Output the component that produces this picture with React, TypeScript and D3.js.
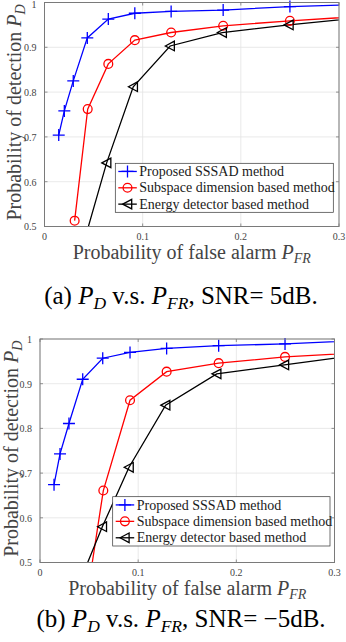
import React from 'react';
import * as d3 from 'd3';

// x = probability of false alarm, y = probability of detection
// (a) SNR = 5dB
const A_SSSAD_X = [0.0145, 0.0202, 0.0293, 0.0436, 0.065, 0.092, 0.129, 0.182, 0.25, 0.35];
const A_SSSAD_Y = [0.704, 0.758, 0.825, 0.921, 0.963, 0.976, 0.98, 0.983, 0.991, 0.997];
const A_SUBSPACE_X = [0.0307, 0.044, 0.065, 0.092, 0.129, 0.182, 0.25, 0.35];
const A_SUBSPACE_Y = [0.513, 0.762, 0.863, 0.916, 0.933, 0.948, 0.959, 0.973];
const A_ENERGY_X = [0.029, 0.0633, 0.0904, 0.128, 0.181, 0.249, 0.35];
const A_ENERGY_Y = [0.38, 0.642, 0.812, 0.903, 0.933, 0.95, 0.972];

// (b) SNR = -5dB
const B_SSSAD_X = [0.0143, 0.0204, 0.0295, 0.0435, 0.0639, 0.0917, 0.129, 0.182, 0.2496, 0.35];
const B_SSSAD_Y = [0.674, 0.743, 0.811, 0.91, 0.957, 0.97, 0.979, 0.985, 0.989, 0.999];
const B_SUBSPACE_X = [0.0435, 0.0645, 0.0917, 0.129, 0.182, 0.2496, 0.35];
const B_SUBSPACE_Y = [0.36, 0.661, 0.863, 0.927, 0.946, 0.96, 0.972];
const B_ENERGY_X = [0.0435, 0.0635, 0.0907, 0.128, 0.18, 0.249, 0.35];
const B_ENERGY_Y = [0.473, 0.58, 0.713, 0.852, 0.922, 0.942, 0.972];

const X_TICKS = [0, 0.1, 0.2, 0.3];
const Y_TICKS = [0.5, 0.6, 0.7, 0.8, 0.9, 1];
const LEGEND = ['Proposed SSSAD method', 'Subspace dimension based method', 'Energy detector based method'];
const COLORS = ['#0000ff', '#ff0000', '#000000'];
const MARKERS = ['plus', 'circle', 'triangle'];

const FONT = '"Liberation Serif", "Times New Roman", serif';
const AXIS = '#7a7a7a';
const LABEL = '#444';

type Series = { x: number[]; y: number[] };

const zip = (s: Series) => s.x.map((x, i) => [x, s.y[i]] as [number, number]);

const Marker = ({ kind, cx, cy, color }: { kind: string; cx: number; cy: number; color: string }) => {
  if (kind === 'plus') {
    return <path d={`M${cx - 6},${cy}H${cx + 6}M${cx},${cy - 6}V${cy + 6}`} stroke={color} strokeWidth={1.3} fill="none" />;
  }
  if (kind === 'circle') {
    return <circle cx={cx} cy={cy} r={4.4} stroke={color} strokeWidth={1.3} fill="none" />;
  }
  return (
    <path d={`M${cx - 4.8},${cy}L${cx + 4.2},${cy - 4.8}L${cx + 4.2},${cy + 4.8}Z`} stroke={color} strokeWidth={1.3} fill="none" />
  );
};

const Sub = ({ main, sub }: { main: string; sub: string }) => (
  <>
    <tspan fontStyle="italic">{main}</tspan>
    <tspan fontStyle="italic" fontSize="0.7em" dy="0.3em">{sub}</tspan>
  </>
);

type PanelProps = {
  id: string;
  series: Series[];
  left: number; right: number; top: number; bottom: number;
  legend: { x0: number; x1: number; y0: number; y1: number };
  yLabelX: number;
  xLabelY: number;
  caption: React.ReactNode;
  captionY: number;
};

const Panel = ({ id, series, left, right, top, bottom, legend, yLabelX, xLabelY, caption, captionY }: PanelProps) => {
  const x = d3.scaleLinear().domain([0, 0.3]).range([left, right]);
  const y = d3.scaleLinear().domain([0.5, 1]).range([bottom, top]);
  const line = d3.line<[number, number]>().x(d => x(d[0])).y(d => y(d[1]));
  const step = (legend.y1 - legend.y0) / 3;
  return (
    <g>
      <defs>
        <clipPath id={id}>
          <rect x={left} y={top} width={right - left} height={bottom - top} />
        </clipPath>
      </defs>
      <rect x={left} y={top} width={right - left} height={bottom - top} fill="#fff" />
      {X_TICKS.map(t => (
        <line key={'gx' + t} x1={x(t)} x2={x(t)} y1={top} y2={bottom} stroke="#e3e3e3" strokeWidth={0.8} />
      ))}
      {Y_TICKS.map(t => (
        <line key={'gy' + t} x1={left} x2={right} y1={y(t)} y2={y(t)} stroke="#e3e3e3" strokeWidth={0.8} />
      ))}
      <g clipPath={`url(#${id})`}>
        {series.map((s, i) => (
          <path key={i} d={line(zip(s)) || ''} stroke={COLORS[i]} strokeWidth={1.3} fill="none" />
        ))}
      </g>
      {series.map((s, i) =>
        zip(s)
          .filter(p => p[0] < 0.3 && p[1] >= 0.5)
          .map((p, j) => <Marker key={i + '-' + j} kind={MARKERS[i]} cx={x(p[0])} cy={y(p[1])} color={COLORS[i]} />)
      )}
      <rect x={left} y={top} width={right - left} height={bottom - top} fill="none" stroke={AXIS} strokeWidth={1} />
      {X_TICKS.map(t => (
        <g key={'tx' + t}>
          <line x1={x(t)} x2={x(t)} y1={bottom} y2={bottom - 3} stroke={AXIS} strokeWidth={0.8} />
          <line x1={x(t)} x2={x(t)} y1={top} y2={top + 3} stroke={AXIS} strokeWidth={0.8} />
          <text x={x(t)} y={bottom + 13.5} textAnchor="middle" fontSize={10} fill={LABEL}>{d3.format('~g')(t)}</text>
        </g>
      ))}
      {Y_TICKS.map(t => (
        <g key={'ty' + t}>
          <line x1={left} x2={left + 3} y1={y(t)} y2={y(t)} stroke={AXIS} strokeWidth={0.8} />
          <line x1={right} x2={right - 3} y1={y(t)} y2={y(t)} stroke={AXIS} strokeWidth={0.8} />
          <text x={left - 8} y={Math.max(y(t) + 3.8, 8)} textAnchor="end" fontSize={10} fill={LABEL}>{d3.format('~g')(t)}</text>
        </g>
      ))}
      <text x={(left + right) / 2} y={xLabelY} textAnchor="middle" fontSize={20} fill={LABEL}>
        Probability of false alarm <Sub main="P" sub="FR" />
      </text>
      <text transform={`translate(${yLabelX},${(top + bottom) / 2 - 2}) rotate(-90)`} textAnchor="middle" fontSize={20} fill={LABEL}>
        Probability of detection <Sub main="P" sub="D" />
      </text>
      <rect x={legend.x0} y={legend.y0} width={legend.x1 - legend.x0} height={legend.y1 - legend.y0} fill="#fff" stroke="#333" strokeWidth={0.7} />
      {LEGEND.map((name, i) => {
        const cy = legend.y0 + step * (i + 0.5);
        return (
          <g key={name}>
            <line x1={legend.x0 + 3} x2={legend.x0 + 21.5} y1={cy} y2={cy} stroke={COLORS[i]} strokeWidth={1.3} />
            <Marker kind={MARKERS[i]} cx={legend.x0 + 12.2} cy={cy} color={COLORS[i]} />
            <text x={legend.x0 + 24} y={cy + 4.6} fontSize={14} fill="#1a1a1a">{name}</text>
          </g>
        );
      })}
      <text x={181} y={captionY} textAnchor="middle" fontSize={25} fill="#000">{caption}</text>
    </g>
  );
};

export default function App() {
  const seriesA: Series[] = [
    { x: A_SSSAD_X, y: A_SSSAD_Y },
    { x: A_SUBSPACE_X, y: A_SUBSPACE_Y },
    { x: A_ENERGY_X, y: A_ENERGY_Y },
  ];
  const seriesB: Series[] = [
    { x: B_SSSAD_X, y: B_SSSAD_Y },
    { x: B_SUBSPACE_X, y: B_SUBSPACE_Y },
    { x: B_ENERGY_X, y: B_ENERGY_Y },
  ];
  return (
    <svg width={346} height={642} style={{ position: 'absolute', left: 0, top: 0, fontFamily: FONT }}>
      <rect width={346} height={642} fill="#fff" />
      <Panel
        id="clipA"
        series={seriesA}
        left={44.5} right={339} top={2.5} bottom={226.5}
        legend={{ x0: 115.3, x1: 333.3, y0: 163.3, y1: 212.3 }}
        yLabelX={21}
        xLabelY={258.5}
        captionY={304}
        caption={<>(a) <Sub main="P" sub="D" /><tspan dy="-0.21em"> v.s. </tspan><Sub main="P" sub="FR" /><tspan dy="-0.21em">, SNR= 5dB.</tspan></>}
      />
      <Panel
        id="clipB"
        series={seriesB}
        left={40} right={334.5} top={339} bottom={562.5}
        legend={{ x0: 112.7, x1: 330, y0: 496.7, y1: 546 }}
        yLabelX={17.5}
        xLabelY={595}
        captionY={626.5}
        caption={<>(b) <Sub main="P" sub="D" /><tspan dy="-0.21em"> v.s. </tspan><Sub main="P" sub="FR" /><tspan dy="-0.21em">, SNR= −5dB.</tspan></>}
      />
    </svg>
  );
}
